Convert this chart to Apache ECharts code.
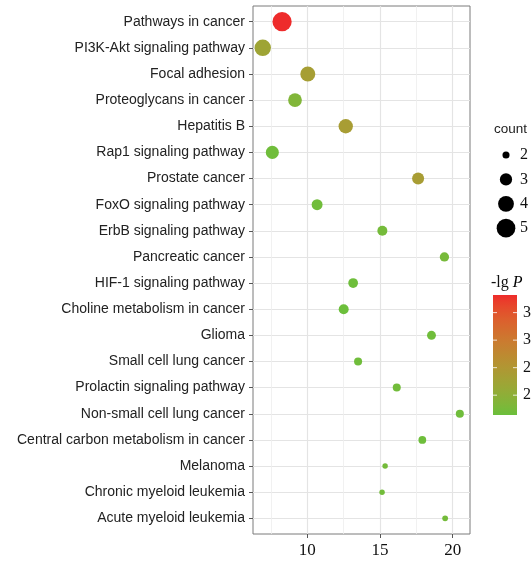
<!DOCTYPE html>
<html>
<head>
<meta charset="utf-8">
<script src="https://cdn.jsdelivr.net/npm/echarts@6/dist/echarts.min.js"></script>
<style>
html,body{margin:0;padding:0;background:#fff;}
#chart{width:532px;height:563px;}
</style>
</head>
<body>
<div id="chart"></div>
<script>
// ---- data ----
var pathways = [
  "Pathways in cancer",
  "PI3K-Akt signaling pathway",
  "Focal adhesion",
  "Proteoglycans in cancer",
  "Hepatitis B",
  "Rap1 signaling pathway",
  "Prostate cancer",
  "FoxO signaling pathway",
  "ErbB signaling pathway",
  "Pancreatic cancer",
  "HIF-1 signaling pathway",
  "Choline metabolism in cancer",
  "Glioma",
  "Small cell lung cancer",
  "Prolactin signaling pathway",
  "Non-small cell lung cancer",
  "Central carbon metabolism in cancer",
  "Melanoma",
  "Chronic myeloid leukemia",
  "Acute myeloid leukemia"
];
var xValues = [8.26, 6.93, 10.03, 9.15, 12.64, 7.59, 17.62, 10.67, 15.16, 19.43,
               13.15, 12.50, 18.54, 13.49, 16.15, 20.49, 17.91, 15.35, 15.14, 19.48];
var counts  = [5.2, 4.2, 3.75, 3.4, 3.55, 3.2, 2.95, 2.7, 2.5, 2.37,
               2.45, 2.5, 2.3, 2.15, 2.14, 2.15, 2.1, 1.8, 1.8, 1.83];
var lgP     = [3.82, 2.22, 2.34, 1.85, 2.36, 1.68, 2.36, 1.69, 1.73, 1.75,
               1.67, 1.65, 1.68, 1.68, 1.70, 1.68, 1.67, 1.72, 1.70, 1.72];
var xTicks = [10, 15, 20];
var xMinorTicks = [7.5, 12.5, 17.5];
var sizeBreaks = [2, 3, 4, 5];
var colorBreaks = [3.5, 3.0, 2.5, 2.0];
var xRange = [6.26, 21.19];
var colorRange = [1.64, 3.82];

// ---- scales ----
function sizeFn(c) { return Math.sqrt(Math.max(100 * c - 150, 9)); }

var LOW = [107, 191, 59], HIGH = [238, 43, 43];
function srgb2lin(c){ c/=255; return c<=0.04045? c/12.92 : Math.pow((c+0.055)/1.055,2.4); }
function lin2srgb(c){ var v = c<=0.0031308? 12.92*c : 1.055*Math.pow(c,1/2.4)-0.055; return Math.max(0,Math.min(255,Math.round(v*255))); }
function rgb2lab(rgb){
  var r=srgb2lin(rgb[0]), g=srgb2lin(rgb[1]), b=srgb2lin(rgb[2]);
  var X=(0.4124*r+0.3576*g+0.1805*b)/0.95047, Y=(0.2126*r+0.7152*g+0.0722*b), Z=(0.0193*r+0.1192*g+0.9505*b)/1.08883;
  function f(t){ return t>0.008856? Math.cbrt(t) : 7.787*t+16/116; }
  var fx=f(X), fy=f(Y), fz=f(Z);
  return [116*fy-16, 500*(fx-fy), 200*(fy-fz)];
}
function lab2rgb(lab){
  var fy=(lab[0]+16)/116, fx=fy+lab[1]/500, fz=fy-lab[2]/200;
  function fi(t){ return t>0.206893? t*t*t : (t-16/116)/7.787; }
  var X=fi(fx)*0.95047, Y=fi(fy), Z=fi(fz)*1.08883;
  var r= 3.2406*X-1.5372*Y-0.4986*Z, g=-0.9689*X+1.8758*Y+0.0415*Z, b=0.0557*X-0.2040*Y+1.0570*Z;
  return [lin2srgb(r), lin2srgb(g), lin2srgb(b)];
}
var LAB_LOW = rgb2lab(LOW), LAB_HIGH = rgb2lab(HIGH);
function colorAtT(t){
  t = Math.max(0, Math.min(1, t));
  var lab = [0,1,2].map(function(i){ return LAB_LOW[i] + (LAB_HIGH[i]-LAB_LOW[i])*t; });
  var c = lab2rgb(lab);
  return 'rgb(' + c.join(',') + ')';
}
function colorFn(v){ return colorAtT((v - colorRange[0]) / (colorRange[1] - colorRange[0])); }

var seriesData = pathways.map(function(name, i){
  return { name: name, value: [xValues[i], i, counts[i], lgP[i]] };
});

// ---- legend graphics ----
var serif = '"Liberation Serif", "DejaVu Serif", serif';
var sans = '"Liberation Sans", Arial, sans-serif';
var graphics = [];
graphics.push({ type:'text', left:494, top:122, style:{ text:'count', font:'13.5px ' + sans, fill:'#222' } });
var sizeKeyTop = 155, sizeKeyStep = 24.4, keyCx = 506;
sizeBreaks.forEach(function(c, i){
  var cy = sizeKeyTop + i * sizeKeyStep;
  graphics.push({ type:'circle', shape:{ cx:keyCx, cy:cy, r:sizeFn(c)/2 }, style:{ fill:'#000' } });
  graphics.push({ type:'text', x:520, y:cy, style:{ text:String(c), font:'16px ' + serif, fill:'#111', verticalAlign:'middle', align:'left' } });
});
graphics.push({ type:'text', x:491, y:283, style:{
  text:'{a|-lg }{b|P}', verticalAlign:'middle', align:'left',
  rich:{ a:{ fontFamily: serif, fontSize:16, fill:'#111', color:'#111' }, b:{ fontFamily: serif, fontSize:16, fontStyle:'italic', color:'#111' } }
}});
var barX = 493, barY = 295, barW = 24, barH = 120;
var stops = [];
for (var k = 0; k <= 20; k++) { stops.push({ offset: k/20, color: colorAtT(1 - k/20) }); }
graphics.push({ type:'rect', shape:{ x:barX, y:barY, width:barW, height:barH },
  style:{ fill: new echarts.graphic.LinearGradient(0,0,0,1, stops) } });
colorBreaks.forEach(function(v){
  var y = barY + (colorRange[1] - v) / (colorRange[1] - colorRange[0]) * barH;
  graphics.push({ type:'line', shape:{ x1:barX, y1:y, x2:barX+4, y2:y }, style:{ stroke:'rgba(255,255,255,0.8)', lineWidth:1 } });
  graphics.push({ type:'line', shape:{ x1:barX+barW-4, y1:y, x2:barX+barW, y2:y }, style:{ stroke:'rgba(255,255,255,0.8)', lineWidth:1 } });
  graphics.push({ type:'text', x:523, y:y, style:{ text:v.toFixed(1), font:'16px ' + serif, fill:'#111', verticalAlign:'middle', align:'left' } });
});

var idx = pathways.map(function(_, i){ return i; });

var chart = echarts.init(document.getElementById('chart'), null, { renderer:'canvas' });
chart.setOption({
  animation:false,
  backgroundColor:'#fff',
  grid:{ left:253, right:62, top:6, bottom:29, show:true, borderColor:'#7a7a7a', borderWidth:1, backgroundColor:'#fff', containLabel:false, outerBoundsMode:'none' },
  xAxis:[{
    type:'value', min:xRange[0], max:xRange[1], position:'bottom',
    axisLine:{ show:false, onZero:false },
    axisTick:{ show:true, customValues:xTicks, length:4, lineStyle:{ color:'#555' } },
    axisLabel:{ customValues:xTicks, fontFamily:serif, fontSize:17, color:'#111', margin:8 },
    splitLine:{ show:true, lineStyle:{ color:'#e4e4e4', width:1.2 } }
  },{
    type:'value', min:xRange[0], max:xRange[1], position:'bottom',
    axisLine:{ show:false, onZero:false },
    axisTick:{ show:false, customValues:xMinorTicks },
    axisLabel:{ show:false, customValues:xMinorTicks },
    splitLine:{ show:true, lineStyle:{ color:'#eeeeee', width:0.8 } }
  }],
  yAxis:{
    type:'value', inverse:true, min:-0.6, max:19.6, position:'left',
    axisLine:{ show:false, onZero:false },
    axisTick:{ show:true, customValues:idx, length:4, lineStyle:{ color:'#555' } },
    axisLabel:{ customValues:idx, fontFamily:sans, fontSize:14, color:'#222', margin:8,
      formatter:function(v){ return pathways[Math.round(v)] || ''; } },
    splitLine:{ show:true, lineStyle:{ color:'#e4e4e4', width:1.2 } }
  },
  series:[{
    type:'scatter',
    xAxisIndex:0,
    data:seriesData,
    symbolSize:function(val){ return sizeFn(val[2]); },
    itemStyle:{ opacity:1, color:function(p){ return colorFn(p.value[3]); } }
  }],
  graphic:graphics
});
</script>
</body>
</html>
